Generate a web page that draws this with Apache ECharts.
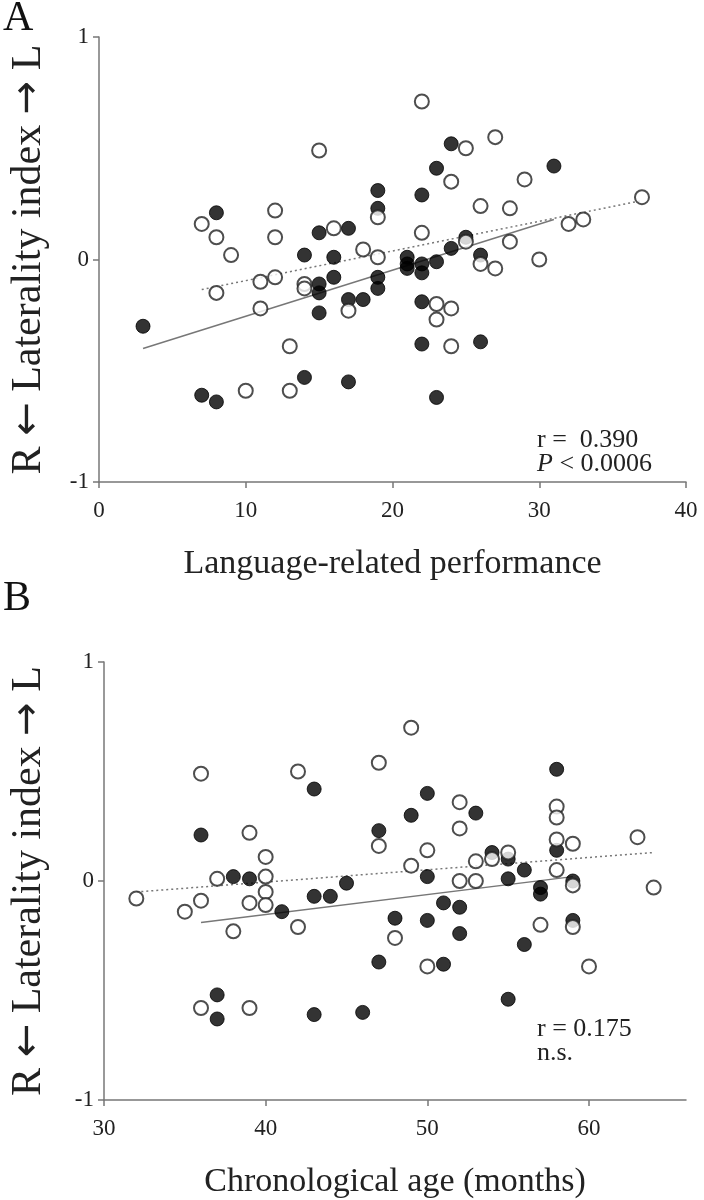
<!DOCTYPE html>
<html><head><meta charset="utf-8">
<script src="https://cdn.jsdelivr.net/npm/echarts@6/dist/echarts.min.js"></script>
<style>html,body{margin:0;padding:0;background:#fff}#c{width:704px;height:1200px}</style>
</head><body><div id="c"></div>
<script>
// ---------- Panel A: Language-related performance ----------
const aFilled = [[3,-0.30],[7,-0.61],[8,-0.64],[8,0.21],[14,0.02],[14,-0.53],
  [15,0.12],[15,-0.11],[15,-0.15],[15,-0.24],[16,0.01],[16,-0.08],
  [17,0.14],[17,-0.18],[17,-0.55],[18,-0.18],[19,0.31],[19,0.23],[19,-0.08],[19,-0.13],
  [21,0.01],[21,-0.02],[21,-0.04],[22,0.29],[22,-0.02],[22,-0.06],[22,-0.19],[22,-0.38],
  [23,0.41],[23,-0.01],[23,-0.62],[24,0.52],[24,0.05],[25,0.10],[26,0.02],[26,-0.37],[31,0.42]];
const aOpen = [[7,0.16],[8,0.10],[8,-0.15],[9,0.02],[10,-0.59],[11,-0.10],[11,-0.22],
  [12,0.22],[12,0.10],[12,-0.08],[13,-0.39],[13,-0.59],[14,-0.11],[14,-0.13],[15,0.49],
  [16,0.14],[17,-0.23],[18,0.045],[19,0.19],[19,0.01],[22,0.71],[22,0.12],[23,-0.20],[23,-0.27],
  [24,0.35],[24,-0.22],[24,-0.39],[25,0.50],[25,0.08],[26,0.24],[26,-0.02],[27,0.55],[27,-0.04],
  [28,0.23],[28,0.08],[29,0.36],[30,0.00],[32,0.16],[33,0.18],[37,0.28]];
const aTrendFilled = [[3,-0.40],[31,0.18]];
const aTrendOpen = [[7,-0.135],[37,0.265]];
const aXTicks = [0,10,20,30,40];

// ---------- Panel B: Chronological age ----------
const bFilled = [[36,0.21],[37,-0.52],[37,-0.63],[38,0.02],[39,0.01],[41,-0.14],
  [43,0.42],[43,-0.07],[43,-0.61],[44,-0.07],[45,-0.01],[46,-0.60],[47,0.23],[47,-0.37],
  [48,-0.17],[49,0.30],[50,0.40],[50,0.02],[50,-0.18],[51,-0.10],[51,-0.38],[52,-0.12],[52,-0.24],
  [53,0.31],[54,0.13],[55,0.10],[55,0.01],[55,-0.54],[56,0.05],[56,-0.29],[57,-0.03],[57,-0.06],
  [58,0.51],[58,0.14],[59,0.00],[59,-0.18]];
const bOpen = [[32,-0.08],[35,-0.14],[36,0.49],[36,-0.09],[36,-0.58],[37,0.01],[38,-0.23],
  [39,0.22],[39,-0.10],[39,-0.58],[40,0.11],[40,0.02],[40,-0.05],[40,-0.11],[42,0.50],[42,-0.21],
  [47,0.54],[47,0.16],[48,-0.26],[49,0.70],[49,0.07],[50,0.14],[50,-0.39],[52,0.36],[52,0.24],[52,0.00],
  [53,0.09],[53,0.00],[54,0.10],[55,0.13],[57,-0.20],[58,0.34],[58,0.29],[58,0.19],[58,0.05],
  [59,0.17],[59,-0.02],[59,-0.21],[60,-0.39],[63,0.20],[64,-0.03]];
const bTrendFilled = [[36,-0.19],[59,0.02]];
const bTrendOpen = [[32,-0.05],[64,0.13]];
const bXTicks = [30,40,50,60];

const yTicks = [-1,0,1];
const yTitle = 'R {a|\u2190} Laterality index {a|\u2192} L';

const FF = "'Liberation Serif','Times New Roman',serif";
const AX = '#777';
const TXT = '#222';

function xAxis(grid, min, max, ticks, name){
  return {type:'value', gridIndex:grid, min:min, max:max, interval:10,
    axisLine:{show:true, onZero:false, lineStyle:{color:AX, width:1.5}},
    axisTick:{show:true, length:6, customValues:ticks, lineStyle:{color:AX, width:1.5}},
    axisLabel:{customValues:ticks, fontFamily:FF, fontSize:23, color:TXT, margin:17},
    splitLine:{show:false},
    name:name, nameLocation:'middle', nameGap:65,
    nameTextStyle:{fontFamily:FF, fontSize:34, color:TXT}};
}
function yAxis(grid, gap){
  return {type:'value', gridIndex:grid, min:-1, max:1, interval:1,
    axisLine:{show:true, onZero:false, lineStyle:{color:AX, width:1.5}},
    axisTick:{show:true, length:6, customValues:yTicks, lineStyle:{color:AX, width:1.5}},
    axisLabel:{customValues:yTicks, fontFamily:FF, fontSize:23, color:TXT, margin:10},
    splitLine:{show:false},
    name:yTitle, nameLocation:'middle', nameRotate:90, nameGap:gap,
    nameTextStyle:{fontFamily:FF, fontSize:42, color:TXT,
      rich:{a:{fontFamily:"'DejaVu Sans',sans-serif", fontSize:40, color:TXT}}}};
}
const openStyle = {color:'#fff', borderColor:'#222', borderWidth:2};
const filledStyle = {color:'#000', borderColor:'#000', borderWidth:1};
function scat(xi, data, style){
  return {type:'scatter', xAxisIndex:xi, yAxisIndex:xi, data:data, symbol:'circle', symbolSize:14,
    itemStyle:style, silent:true};
}
function trend(xi, data, dashed){
  return {type:'line', xAxisIndex:xi, yAxisIndex:xi, data:data, symbol:'none', silent:true,
    lineStyle:{color:'#777', width:1.5, type: dashed ? [2,3] : 'solid'}, z:1};
}

const chart = echarts.init(document.getElementById('c'), null, {renderer:'canvas'});
chart.setOption({
  backgroundColor:'#fff',
  animation:false,
  grid:[
    {left:93, top:37, width:593, height:445},
    {left:102, top:662, width:584, height:440}
  ],
  xAxis:[xAxis(0,0,40,aXTicks,'Language-related performance'),
         xAxis(1,30,66,bXTicks,'Chronological age (months)')],
  yAxis:[yAxis(0,49), yAxis(1,54)],
  series:[
    trend(0,aTrendFilled,false), trend(0,aTrendOpen,true),
    scat(0,aFilled,filledStyle), scat(0,aOpen,openStyle),
    trend(1,bTrendFilled,false), trend(1,bTrendOpen,true),
    scat(1,bFilled,filledStyle), scat(1,bOpen,openStyle)
  ],
  graphic:[
    {type:'text', left:3, top:-2, style:{text:'A', font:'42px '+FF, fill:'#111'}},
    {type:'text', left:3, top:578, style:{text:'B', font:'42px '+FF, fill:'#111'}},
    {type:'text', left:537, top:427, style:{text:'r =  0.390', font:'26px '+FF, fill:TXT}},
    {type:'text', left:537, top:451, style:{text:'{i|P} < 0.0006', font:'26px '+FF, fill:TXT,
      rich:{i:{fontStyle:'italic', fontFamily:FF, fontSize:26}}}},
    {type:'text', left:537, top:1016, style:{text:'r = 0.175', font:'26px '+FF, fill:TXT}},
    {type:'text', left:537, top:1040, style:{text:'n.s.', font:'26px '+FF, fill:TXT}}
  ]
});
</script></body></html>
